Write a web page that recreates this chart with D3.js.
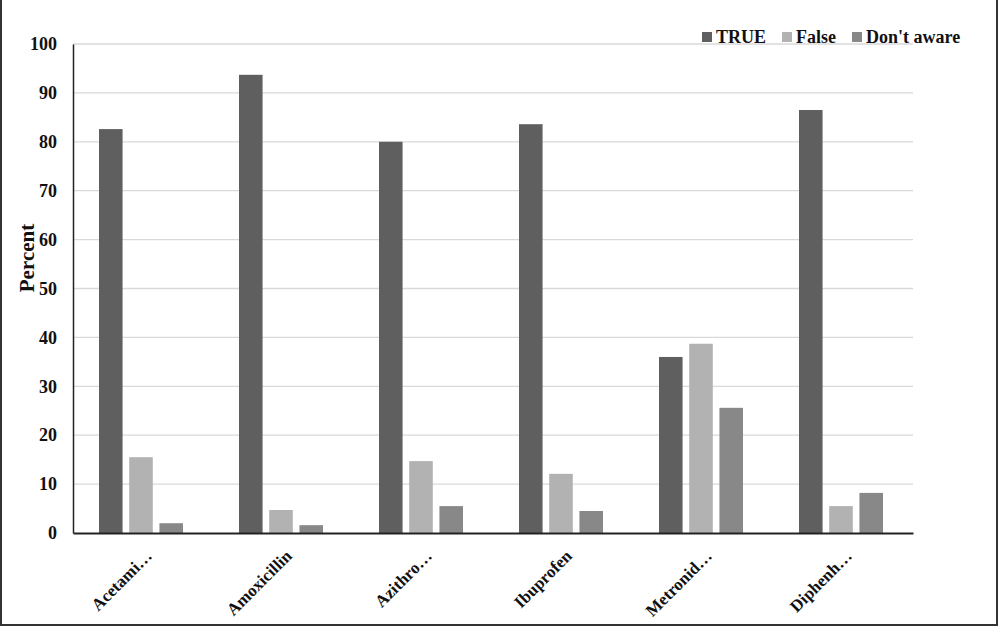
<!DOCTYPE html>
<html><head><meta charset="utf-8">
<script src="https://cdn.jsdelivr.net/npm/d3@7/dist/d3.min.js"></script>
<style>body{margin:0;background:#fff}svg{display:block}</style>
</head><body>
<script>
const categories = ["Acetami…","Amoxicillin","Azithro…","Ibuprofen","Metronid…","Diphenh…"];
const seriesNames = ["TRUE","False","Don't aware"];
const trueVals = [82.6, 93.7, 80.0, 83.6, 36.0, 86.5];
const falseVals = [15.5, 4.7, 14.7, 12.1, 38.7, 5.5];
const dontVals = [2.0, 1.6, 5.5, 4.5, 25.6, 8.2];
const yTicks = [0,10,20,30,40,50,60,70,80,90,100];
const colors = ["#5f5f5f","#b2b2b2","#888888"];

(function(){
const W=1000,H=628;
const svg=d3.select("body").append("svg").attr("width",W).attr("height",H);
svg.append("rect").attr("x",1).attr("y",-2).attr("width",996).attr("height",627)
  .attr("fill","#fff").attr("stroke","#333").attr("stroke-width",2);

const pLeft=73,pRight=913,pTop=44,pBottom=533;
const x0=d3.scaleBand().domain(categories).range([pLeft,pRight]).paddingInner(0).paddingOuter(0);
const x1=d3.scaleBand().domain(seriesNames).range([26,110]).paddingInner(0.22);
const y=d3.scaleLinear().domain([0,100]).range([pBottom,pTop]);
const font="'Liberation Serif','Times New Roman',serif";

svg.append("g").selectAll("line").data(yTicks.filter(d=>d>0)).join("line")
  .attr("x1",pLeft).attr("x2",pRight).attr("y1",d=>y(d)).attr("y2",d=>y(d))
  .attr("stroke","#d9d9d9").attr("stroke-width",1.3);

const data=categories.map((c,i)=>({c,vals:[trueVals[i],falseVals[i],dontVals[i]]}));
const g=svg.append("g");
data.forEach(d=>{
  g.selectAll(null).data(d.vals).join("rect")
   .attr("x",(v,j)=>x0(d.c)+x1(seriesNames[j]))
   .attr("width",x1.bandwidth())
   .attr("y",v=>y(v)).attr("height",v=>pBottom-y(v))
   .attr("fill",(v,j)=>colors[j]);
});

const yAxis=d3.axisLeft(y).tickValues(yTicks).tickSize(0).tickPadding(16);
const ya=svg.append("g").attr("transform",`translate(${pLeft},0)`).call(yAxis);
ya.select(".domain").attr("stroke","#222").attr("stroke-width",1.5);
ya.selectAll("text").attr("font-family",font).attr("font-weight","bold").attr("font-size",18).attr("fill","#111");

const xAxis=d3.axisBottom(x0).tickSize(0).tickFormat("");
const xa=svg.append("g").attr("transform",`translate(0,${pBottom})`).call(xAxis);
xa.select(".domain").attr("stroke","#222").attr("stroke-width",2);

svg.append("g").selectAll("text").data(categories).join("text")
  .attr("transform",d=>`translate(${x0(d)+x0.bandwidth()/2+10},${pBottom+24}) rotate(-45)`)
  .attr("text-anchor","end").attr("font-family",font).attr("font-weight","bold")
  .attr("font-size",17).attr("fill","#111").text(d=>d);

svg.append("text").attr("transform","translate(34,258) rotate(-90)")
  .attr("text-anchor","middle").attr("font-family",font).attr("font-weight","bold")
  .attr("font-size",21).attr("fill","#111").text("Percent");

const legX=[702,782,852];
const lg=svg.append("g");
seriesNames.forEach((s,i)=>{
  lg.append("rect").attr("x",legX[i]).attr("y",32).attr("width",10).attr("height",10).attr("fill",colors[i]);
  lg.append("text").attr("x",legX[i]+14).attr("y",43).attr("font-family",font).attr("font-weight","bold")
    .attr("font-size",18).attr("fill","#111").text(s);
});
})();
</script>
</body></html>
